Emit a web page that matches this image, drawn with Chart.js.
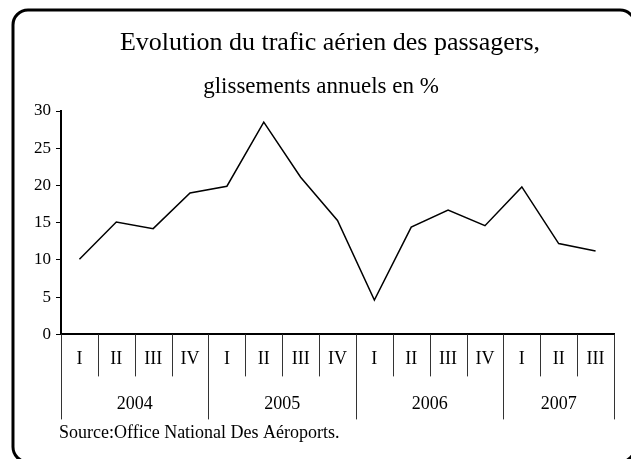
<!DOCTYPE html>
<html lang="fr">
<head>
    <meta charset="UTF-8">
    <title>Evolution du trafic aérien des passagers</title>
    <script src="https://cdn.jsdelivr.net/npm/chart.js"></script>
    <style>
        html, body { margin: 0; padding: 0; background: #fff; }
        #wrap { width: 631px; height: 459px; position: relative; }
    </style>
</head>
<body>
    <div id="wrap"><canvas id="trafficChart"></canvas></div>

    <script>
        // Data
        const years = ['2004', '2005', '2006', '2007'];
        const quarters = ['I', 'II', 'III', 'IV', 'I', 'II', 'III', 'IV', 'I', 'II', 'III', 'IV', 'I', 'II', 'III'];
        const quarterYears = ['2004', '2004', '2004', '2004', '2005', '2005', '2005', '2005',
                              '2006', '2006', '2006', '2006', '2007', '2007', '2007'];
        const growth = [10.1, 15.1, 14.2, 19.0, 19.9, 28.5, 21.1, 15.3, 4.6, 14.4, 16.7, 14.6, 19.8, 12.2, 11.2];

        const titleText = 'Evolution du trafic aérien des passagers,';
        const subtitleText = 'glissements annuels en %';
        const sourceText = 'Source:Office National Des Aéroports.';

        const serif = '"Liberation Serif", "Times New Roman", serif';

        // Frame, titles, source note and the two-row category table under the axis
        const framePlugin = {
            id: 'frame',
            beforeDraw(chart) {
                const c = chart.ctx;
                c.save();
                c.fillStyle = '#fff';
                c.fillRect(0, 0, chart.width, chart.height);

                // rounded border (runs off the right and bottom edges)
                c.strokeStyle = '#000';
                c.lineWidth = 3;
                c.beginPath();
                c.roundRect(13, 10, 622, 452, 15);
                c.stroke();

                c.fillStyle = '#000';
                c.textAlign = 'center';
                c.textBaseline = 'alphabetic';
                c.font = '26px ' + serif;
                c.fillText(titleText, 330, 50);
                c.font = '23px ' + serif;
                c.fillText(subtitleText, 321, 93);

                c.textAlign = 'left';
                c.font = '18px ' + serif;
                c.fillText(sourceText, 59, 438);
                c.restore();
            },
            afterDraw(chart) {
                const c = chart.ctx;
                const x = chart.scales.x;
                const area = chart.chartArea;
                const half = (x.getPixelForValue(1) - x.getPixelForValue(0)) / 2;
                const rowQ = area.bottom + 42;
                const rowY = area.bottom + 85;

                c.save();
                c.strokeStyle = '#333';
                c.lineWidth = 1;
                for (let i = 0; i <= quarters.length; i++) {
                    const px = i < quarters.length ? x.getPixelForValue(i) - half : x.getPixelForValue(i - 1) + half;
                    const yearEdge = i === 0 || i === quarters.length || quarterYears[i] !== quarterYears[i - 1];
                    c.beginPath();
                    c.moveTo(Math.round(px) + 0.5, area.bottom);
                    c.lineTo(Math.round(px) + 0.5, yearEdge ? rowY : rowQ);
                    c.stroke();
                }

                // year labels centred under their quarters
                c.fillStyle = '#000';
                c.textAlign = 'center';
                c.textBaseline = 'middle';
                c.font = '18px ' + serif;
                years.forEach(year => {
                    const idx = quarterYears.map((y, i) => y === year ? i : -1).filter(i => i >= 0);
                    const left = x.getPixelForValue(idx[0]) - half;
                    const right = x.getPixelForValue(idx[idx.length - 1]) + half;
                    c.fillText(year, (left + right) / 2, area.bottom + 70);
                });
                c.restore();
            }
        };

        const ctx = document.getElementById('trafficChart').getContext('2d');

        const trafficChart = new Chart(ctx, {
            type: 'line',
            data: {
                labels: quarters,
                datasets: [{
                    label: 'Glissement annuel (%)',
                    data: growth,
                    borderColor: '#000',
                    borderWidth: 1.5,
                    pointRadius: 0,
                    tension: 0,
                    fill: false
                }]
            },
            options: {
                responsive: true,
                maintainAspectRatio: false,
                animation: false,
                layout: {
                    padding: { left: 29, right: 17, top: 111, bottom: 75 }
                },
                plugins: {
                    legend: { display: false },
                    tooltip: { enabled: false }
                },
                scales: {
                    x: {
                        offset: true,
                        grid: { display: false, drawTicks: false },
                        border: { display: true, color: '#000', width: 2 },
                        ticks: {
                            color: '#000',
                            padding: 14,
                            maxRotation: 0,
                            autoSkip: false,
                            font: { family: serif, size: 18 }
                        }
                    },
                    y: {
                        min: 0,
                        max: 30,
                        grid: {
                            drawOnChartArea: false,
                            drawTicks: true,
                            tickLength: 5,
                            tickColor: '#000',
                            tickWidth: 1
                        },
                        border: { display: true, color: '#000', width: 2 },
                        ticks: {
                            stepSize: 5,
                            color: '#000',
                            padding: 5,
                            font: { family: serif, size: 17 }
                        }
                    }
                }
            },
            plugins: [framePlugin]
        });
    </script>
</body>
</html>
